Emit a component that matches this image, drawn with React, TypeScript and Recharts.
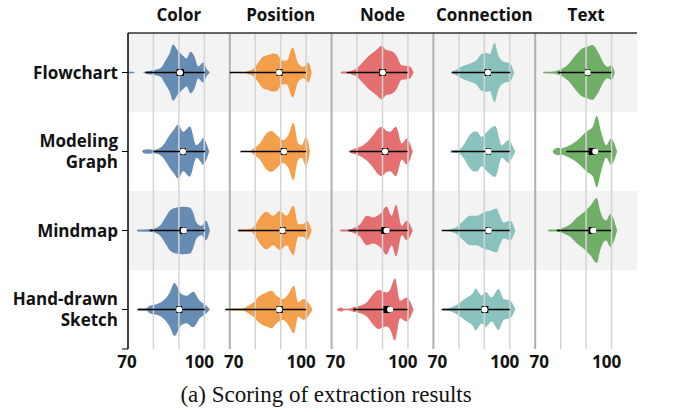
import React from 'react';
import { ComposedChart, Area, XAxis, YAxis, ReferenceArea, ReferenceLine, ReferenceDot } from 'recharts';

const metrics = ['Color', 'Position', 'Node', 'Connection', 'Text'];
const chartTypes = ['Flowchart', 'Modeling Graph', 'Mindmap', 'Hand-drawn Sketch'];
const colors = ['#4E79A7', '#F28E2B', '#E15759', '#76B7B2', '#59A14F'];
const scoreTicks = [70, 100];
const gridScores = [80, 90, 100];

// kernel density knots per metric: [score, relative density]; null = no data
const flowchartDensity = [
  [[70, 2], [72, 2], [72.8, 0], [75.8, 0], [76.5, 2], [80, 7], [83, 14], [84.5, 33], [86.4, 58], [87.7, 84], [89.7, 64], [91.6, 50], [93, 42], [94.6, 62], [96, 50], [97.6, 18], [99.5, 30], [101, 10], [102.2, 0]],
  [[75.5, 0], [77, 4], [79, 10], [80.5, 22], [83, 47], [85, 52], [87, 57], [88.5, 55], [90.5, 36], [92.3, 35], [94.7, 75], [96.9, 27], [98.9, 17], [100.9, 29], [102.2, 0]],
  [[73.5, 0], [74, 3], [75.5, 3], [76.5, 2], [78, 6], [79.8, 12], [82.4, 32], [85, 52], [87.6, 67], [89.6, 80], [91.5, 67], [93.5, 64], [95.5, 50], [97.5, 22], [99.5, 20], [100.8, 18], [102.2, 0]],
  [[77, 0], [77.5, 3], [79.2, 9], [81.8, 20], [84.4, 27], [87, 37], [89, 55], [90.9, 58], [92.2, 55], [94, 89], [95.5, 52], [97.5, 32], [100.1, 27], [101.7, 0]],
  [[73, 0], [73.5, 2], [77, 3], [78.9, 6], [80.7, 12], [83.3, 27], [85.9, 52], [88.5, 72], [90.5, 77], [92.4, 82], [95, 57], [97, 27], [98.3, 17], [100, 22], [101.3, 0]],
];
const modelingDensity = [
  [[75.5, 0], [76.2, 5], [78, 7], [79.8, 5], [81.5, 7], [83.8, 19], [86.4, 49], [88, 65], [89.7, 81], [91.7, 59], [94.3, 75], [96.9, 19], [98.5, 30], [99.5, 40], [100.8, 25], [101.9, 0]],
  [[78, 0], [78.5, 4], [79.8, 11], [81.8, 24], [84.4, 54], [86.4, 61], [88.4, 49], [91, 34], [93, 49], [95, 86], [96.9, 24], [98.2, 19], [100, 44], [101.5, 0]],
  [[76.5, 0], [78.5, 7], [81.2, 14], [83.8, 27], [86.4, 49], [88.4, 69], [89.7, 74], [91.5, 62], [93, 59], [95.3, 74], [97.6, 24], [99.5, 39], [101.9, 0]],
  [[76.5, 0], [77, 4], [80, 5], [81.8, 19], [83.8, 44], [85.8, 59], [87, 60], [89, 44], [91, 59], [94.3, 76], [96.9, 19], [99.5, 34], [101.2, 15], [102.2, 0]],
  [[76.8, 0], [77.5, 7], [79, 11], [80.5, 10], [82.2, 14], [84.8, 24], [87.4, 39], [90, 59], [92.6, 74], [94.2, 107], [95.9, 59], [97.9, 19], [99.8, 39], [102.2, 0]],
];
const mindmapDensity = [
  [[73.5, 0], [74, 3], [78, 4], [79.8, 5], [82.5, 14], [85.1, 44], [86.4, 59], [89, 69], [91.6, 71], [94.3, 69], [95.5, 55], [96.9, 24], [98.9, 14], [100.6, 29], [102.2, 0]],
  [[73, 0], [73.5, 3], [78, 4], [79.8, 14], [81.8, 39], [84.4, 56], [87, 44], [89.7, 58], [92.3, 44], [95, 74], [96.9, 19], [98.9, 19], [100.2, 29], [102.2, 0]],
  [[70, 2], [71, 0], [73.3, 0], [73.5, 3], [75.9, 3], [76.6, 3], [78.5, 7], [81.2, 19], [83.8, 44], [86.4, 39], [89, 49], [91.6, 72], [93.6, 44], [95.3, 77], [97.6, 14], [99.5, 29], [101.9, 0]],
  [[73, 0], [76.6, 3], [79.2, 11], [81.8, 29], [84.4, 44], [87, 44], [89.6, 54], [92.2, 59], [94.9, 66], [95.8, 50], [97.6, 24], [100.2, 29], [102.2, 0]],
  [[75, 0], [75.5, 3], [78.5, 3], [81.2, 9], [83.8, 19], [86.4, 39], [89, 54], [91.7, 74], [94.2, 97], [95.5, 60], [96.9, 34], [97.9, 30], [99.5, 49], [102.2, 0]],
];
const sketchDensity = [
  [[73.5, 0], [74, 3], [77, 3], [78.5, 11], [81.2, 16], [83.8, 26], [86.4, 51], [88.2, 79], [91, 46], [93, 41], [95.6, 53], [98.2, 26], [100.8, 11], [102.2, 0]],
  [[70, 0], [70.5, 3], [74, 3], [75.5, 4], [77.2, 11], [79.2, 21], [81.8, 41], [84.4, 51], [86.4, 56], [88.4, 41], [91, 31], [93, 46], [95.2, 71], [96.9, 21], [98.9, 31], [100.8, 21], [102.5, 0]],
  [[72, 0], [73.5, 6], [75.3, 2], [77, 3], [78.5, 7], [81.2, 11], [83.8, 21], [86.4, 46], [88.5, 58], [91.6, 51], [93, 60], [94.9, 93], [96.9, 26], [99.5, 36], [102.2, 0]],
  [[73, 0], [74, 3], [76, 4], [77.9, 9], [80.5, 21], [83.1, 36], [85.7, 51], [86.5, 63], [89, 42], [90.5, 52], [92.9, 36], [95.6, 61], [97.6, 31], [100.2, 26], [102.2, 0]],
  null,
];

// box stats: [whisker low, q1, median, q3, whisker high]
const flowchartBox = [[76.9, 89.1, 90.4, 92.0, 100.2], [70.0, 88.4, 89.4, 90.7, 99.9], [75.9, 88.7, 90.1, 91.4, 99.8], [77.2, 90.1, 91.4, 92.5, 100.2], [78.9, 89.6, 90.6, 91.6, 99.9]];
const modelingBox = [[80.0, 90.6, 91.6, 92.7, 100.3], [74.2, 90.0, 91.3, 92.3, 100.0], [77.2, 89.7, 91.0, 92.3, 99.8], [77.2, 90.7, 91.6, 92.5, 100.0], [82.2, 91.0, 93.6, 94.0, 99.8]];
const mindmapBox = [[78.5, 90.3, 91.9, 92.7, 100.2], [73.3, 89.7, 90.7, 91.9, 100.0], [76.6, 89.5, 91.6, 92.2, 99.8], [73.3, 90.6, 91.7, 92.5, 100.0], [78.5, 91.0, 92.8, 93.3, 99.8]];
const sketchBox = [[73.9, 89.0, 90.1, 91.3, 100.2], [68.2, 88.4, 89.4, 90.8, 100.0], [78.5, 90.4, 93.0, 93.4, 99.8], [73.3, 88.9, 90.1, 91.6, 100.0], null];

const densities = [flowchartDensity, modelingDensity, mindmapDensity, sketchDensity];
const boxes = [flowchartBox, modelingBox, mindmapBox, sketchBox];

const SPAN = 40; // each metric panel covers scores 70..110
const LO = 70;
const DENS_SCALE = 236;
const FONT = '"Open Sans", sans-serif';

const RowTick = ({ x, y, payload }: any) => {
  const name = chartTypes[Math.floor(payload.value)];
  if (payload.value % 1 === 0 || !name) return null;
  const lines = name.split(' ');
  const offs = lines.length === 1 ? [6] : [-4.5, 16.5];
  return (
    <text x={x} textAnchor="end" fontFamily={FONT} fontWeight={700} fontSize={17} fill="#111">
      {lines.map((l, i) => (
        <tspan key={i} x={x} y={y + offs[i]}>{l}</tspan>
      ))}
    </text>
  );
};

const ScoreTick = ({ x, y, payload }: any) => {
  const s = LO + ((payload.value - LO) % SPAN);
  const first = payload.value === LO;
  const dx = s === 100 ? -5 : first ? -1 : 4;
  return (
    <text x={x + dx} y={y + 12} textAnchor="middle" fontFamily={FONT} fontWeight={700} fontSize={17} fill="#111">
      {s}
    </text>
  );
};

export default function App() {
  const xMax = LO + SPAN * metrics.length;
  const bottomTicks = metrics.flatMap((_, p) => scoreTicks.map((t) => t + p * SPAN));

  return (
    <div style={{ position: 'absolute', left: 0, top: 0, width: 677, height: 412, background: '#fff' }}>
      <ComposedChart width={677} height={412} margin={{ top: 33, right: 40, bottom: 33, left: 8 }}>
        <XAxis type="number" dataKey="x" domain={[LO, xMax]} ticks={bottomTicks} interval={0}
          axisLine={false} tickLine={false} tickSize={0} tickMargin={7} height={30} tick={<ScoreTick />} allowDataOverflow />
        <YAxis type="number" domain={[0, chartTypes.length]} reversed ticks={[0.5, 1.5, 2.5, 3.5, 4]} interval={0} width={120}
          axisLine={{ stroke: '#000', strokeWidth: 1.5 }} tickLine={{ stroke: '#000' }} tickSize={6} tickMargin={4} tick={<RowTick />} allowDataOverflow />

        {chartTypes.map((_, r) => (r % 2 === 0 ? (
          <ReferenceArea key={`bg${r}`} y1={r} y2={r + 1} fill="#f3f3f3" fillOpacity={1} stroke="none" ifOverflow="visible" />
        ) : null))}

        {metrics.flatMap((_, p) => gridScores.map((g) => (
          <ReferenceLine key={`g${p}-${g}`} x={g + p * SPAN} stroke="#d4d4d4" strokeWidth={1.5} />
        )))}
        {metrics.slice(1).map((_, p) => (
          <ReferenceLine key={`edge${p}`} x={LO + (p + 1) * SPAN} stroke="#b0b0b0" strokeWidth={2} />
        ))}
        <ReferenceLine y={0} stroke="#333" strokeWidth={1.5} />

        {metrics.map((m, p) => (
          <ReferenceArea key={`t${p}`} x1={LO + p * SPAN} x2={LO + (p + 1) * SPAN} fill="none" stroke="none"
            label={{ value: m, position: 'top', offset: 12, fontFamily: FONT, fontWeight: 700, fontSize: 17, fill: '#111' }} />
        ))}

        {densities.flatMap((row, r) => row.map((knots, p) => knots ? (
          <Area key={`v${r}-${p}`} data={knots.map(([s, v]) => ({ x: s + p * SPAN, band: [r + 0.5 - v / DENS_SCALE, r + 0.5 + v / DENS_SCALE] }))}
            dataKey="band" type="monotoneX" stroke="none" fill={colors[p]} fillOpacity={0.85}
            isAnimationActive={false} dot={false} activeDot={false} />
        ) : null))}

        {boxes.flatMap((row, r) => row.map((b, p) => {
          if (!b) return null;
          const [lo, q1, med, q3, hi] = b;
          const off = p * SPAN;
          const c = r + 0.5;
          return [
            <ReferenceLine key={`w${r}-${p}`} segment={[{ x: lo + off, y: c }, { x: hi + off, y: c }]} stroke="#000" strokeWidth={1.6} ifOverflow="visible" />,
            <ReferenceLine key={`b${r}-${p}`} segment={[{ x: q1 + off, y: c }, { x: q3 + off, y: c }]} stroke="#000" strokeWidth={7} ifOverflow="visible" />,
            <ReferenceDot key={`m${r}-${p}`} x={med + off} y={c} r={3} fill="#fff" stroke="none" ifOverflow="visible" />,
          ];
        }))}
      </ComposedChart>
      <div style={{ position: 'absolute', top: 382, left: 0, width: 652, textAlign: 'center', fontFamily: '"Liberation Serif", serif', fontSize: 23, color: '#111' }}>
        (a) Scoring of extraction results
      </div>
    </div>
  );
}
